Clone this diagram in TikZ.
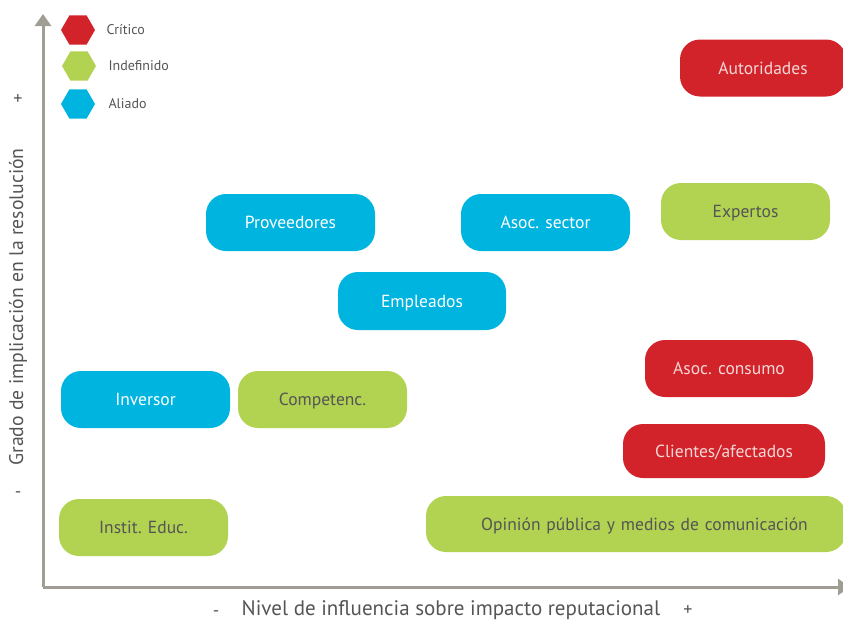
\documentclass[tikz,border=0pt]{standalone}
\usepackage{fontspec}
\setmainfont{PT Sans}
\usetikzlibrary{shapes.geometric,arrows.meta}
\definecolor{cred}{RGB}{211,35,42}
\definecolor{cgreen}{RGB}{178,210,82}
\definecolor{cblue}{RGB}{0,180,224}
\definecolor{caxis}{RGB}{160,158,148}
\definecolor{ctext}{RGB}{85,85,85}
\definecolor{cpink}{RGB}{245,215,215}
\tikzset{
  x=1pt,y=-1pt,
  pill/.style={rounded corners=20pt,inner sep=0pt,text height=13pt,text depth=1pt,font=\fontsize{17.5}{19}\selectfont},
  redpill/.style={pill,fill=cred,text=cpink},
  greenpill/.style={pill,fill=cgreen,text=ctext},
  bluepill/.style={pill,fill=cblue,text=white},
  hex/.style={regular polygon,regular polygon sides=6,minimum size=34pt,inner sep=0pt},
  legtext/.style={anchor=west,text=ctext,font=\fontsize{14}{16}\selectfont},
  sign/.style={text=ctext,font=\fontsize{18}{20}\selectfont},
  axis/.style={caxis,line width=3pt}
}
\begin{document}
\begin{tikzpicture}
\useasboundingbox (0,0) rectangle (843,621);
% axes
\coordinate (orig) at (43,587);
\coordinate (ytop) at (43,14);
\coordinate (xend) at (850,587);
\draw[axis,-{Triangle[width=16pt,length=12pt]}] (orig) -- (ytop);
\draw[axis,-{Triangle[width=16pt,length=12pt]}] (orig) -- (xend);
% axis labels
\node[text=ctext,font=\fontsize{19.7}{21}\selectfont,rotate=90] (ylab) at (18,307) {Grado de implicación en la resolución};
\node[sign] (yplus) at (18,100) {+};
\node[sign] (yminus) at (18,495) {-};
\node[text=ctext,font=\fontsize{21}{23}\selectfont] (xlab) at (451,610) {Nivel de influencia sobre impacto reputacional};
\node[sign] (xminus) at (216,614) {-};
\node[sign] (xplus) at (688,610) {+};
% legend
\node[hex,fill=cred] (hr) at (78,30) {};
\node[hex,fill=cgreen] (hg) at (79,66) {};
\node[hex,fill=cblue] (hb) at (78,104) {};
\node[legtext] (lr) at (103,30) {Crítico};
\node[legtext] (lg) at (105,66) {Indefinido};
\node[legtext] (lb) at (105,104) {Aliado};
% pills
\node[redpill,minimum width=166pt,minimum height=57pt] (aut) at (763,68) {Autoridades};
\node[greenpill,minimum width=169pt,minimum height=57pt] (exp) at (745.5,211.5) {Expertos};
\node[bluepill,minimum width=169pt,minimum height=57pt] (prov) at (290.5,222.5) {Proveedores};
\node[bluepill,minimum width=169pt,minimum height=57pt] (asec) at (545.5,222.5) {Asoc. sector};
\node[bluepill,minimum width=168pt,minimum height=58pt] (emp) at (422,301) {Empleados};
\node[redpill,minimum width=168pt,minimum height=57pt] (acon) at (729,368.5) {Asoc. consumo};
\node[bluepill,minimum width=169pt,minimum height=57pt] (inv) at (145.5,399.5) {Inversor};
\node[greenpill,minimum width=169pt,minimum height=57pt] (comp) at (322.5,399.5) {Competenc.};
\node[redpill,minimum width=202pt,minimum height=54pt] (cli) at (724,451) {Clientes/afectados};
\node[greenpill,minimum width=169pt,minimum height=57pt] (inst) at (143.5,527.5) {Instit. Educ.};
\node[greenpill,minimum width=420pt,minimum height=56pt,text width=400pt,align=center] (op) at (636,524) {\hspace*{17pt}Opinión pública y medios de comunicación};
\end{tikzpicture}
\end{document}
